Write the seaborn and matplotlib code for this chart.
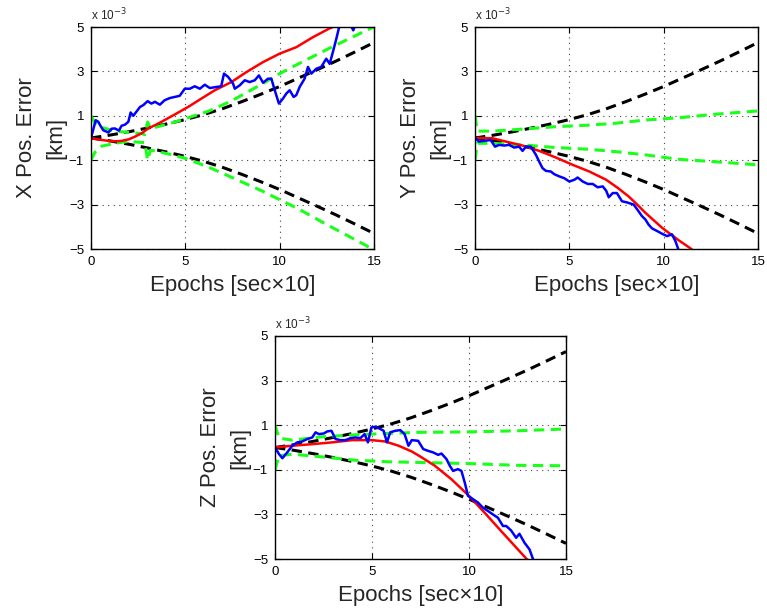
import matplotlib
matplotlib.use("Agg")
import matplotlib.pyplot as plt
import seaborn as sns

# ---- data (position errors in units of 1e-3 km, time in epochs of 10 s) ----
# 3-sigma covariance envelope (black dashed), shared by all axes
t_env = [0, 1, 2, 3, 4, 5, 6, 7, 8, 9, 10, 11, 12, 13, 14, 15]
env = [0, 0.13, 0.28, 0.45, 0.63, 0.83, 1.06, 1.33, 1.64, 1.97, 2.32, 2.7, 3.08, 3.47, 3.88, 4.3]

# X axis
t_blue_x = [0, 0.25, 0.39, 0.48, 0.65, 0.92, 1.1, 1.27, 1.48, 1.62, 1.8, 1.98, 2.1, 2.24, 2.33,
            2.6, 2.77, 3.0, 3.2, 3.39, 3.65, 3.9, 4.18, 4.44, 4.7, 4.97, 5.24, 5.5, 5.77, 6.03,
            6.3, 6.65, 6.9, 7.05, 7.27, 7.53, 7.62, 7.88, 8.15, 8.41, 8.68, 8.9, 9.12, 9.38,
            9.56, 9.74, 9.96, 10.18, 10.35, 10.53, 10.74, 10.88, 11.06, 11.32, 11.5, 11.68,
            11.94, 12.2, 12.47, 12.65, 12.82, 13.0, 13.17, 13.4, 13.7, 13.9, 14.1, 14.5, 15.0]
blue_x = [0, 0.8, 0.73, 0.58, 0.35, 0.25, 0.42, 0.43, 0.33, 0.55, 0.6, 0.73, 1.15, 1.0, 1.1,
          1.4, 1.48, 1.66, 1.55, 1.63, 1.5, 1.7, 1.8, 1.85, 1.9, 2.22, 2.22, 2.33, 2.22, 2.4,
          2.25, 2.3, 2.33, 2.9, 2.75, 2.45, 2.22, 2.37, 2.6, 2.52, 2.6, 2.82, 2.49, 2.67,
          2.67, 2.15, 1.55, 1.78, 2.0, 2.15, 1.85, 1.93, 2.3, 2.67, 3.2, 2.9,
          3.12, 3.2, 3.57, 3.34, 3.87, 4.46, 5.06, 5.5, 5.2, 4.85, 5.3, 5.8, 6.0]
t_red_x = [0, 0.5, 0.92, 1.3, 1.62, 2.0, 2.33, 2.7, 3.03, 3.4, 3.74, 4.1, 4.44, 5.15, 5.86,
           6.56, 7.44, 8.24, 9.12, 10.0, 10.88, 11.76, 12.65, 13.0, 13.5]
red_x = [0, -0.08, -0.13, -0.15, -0.13, -0.06, 0.06, 0.22, 0.43, 0.58, 0.73, 0.9, 1.06, 1.4,
         1.78, 2.15, 2.52, 2.97, 3.42, 3.8, 4.09, 4.54, 4.94, 5.06, 5.4]
t_grn_x = [0, 0.2, 0.56, 1.27, 1.98, 2.68, 2.85, 3.0, 3.15, 3.5, 4.44, 5.0, 6.2, 7.4, 9.1,
           10.0, 10.9, 12.65, 14.6, 15.0]
grn_hi_x = [1.0, 0.7, 0.48, 0.31, 0.25, 0.2, 0.15, 0.72, 0.45, 0.5, 0.72, 0.87, 1.2, 1.65, 2.45,
            2.9, 3.3, 4.05, 4.85, 5.0]
grn_lo_x = [-1.0, -0.65, -0.37, -0.24, -0.15, -0.2, -0.2, -1.0, -0.55, -0.6, -0.79, -0.92, -1.3,
            -1.75, -2.4, -2.78, -3.15, -3.97, -4.85, -5.1]

# Y axis
t_blue_y = [0, 0.21, 0.48, 0.83, 1.06, 1.28, 1.54, 1.81, 2.07, 2.34, 2.52, 2.7, 2.96, 3.23,
            3.4, 3.58, 3.76, 4.02, 4.2, 4.47, 4.73, 5.0, 5.27, 5.44, 5.71, 5.98, 6.24, 6.5,
            6.77, 6.95, 7.09, 7.3, 7.52, 7.79, 8.05, 8.41, 8.67, 8.85, 9.03, 9.2, 9.38, 9.65,
            9.91, 10.18, 10.44, 10.62, 10.76, 10.85]
blue_y = [0, -0.16, -0.13, -0.09, -0.39, -0.31, -0.34, -0.31, -0.43, -0.39, -0.58, -0.39,
          -0.39, -0.76, -1.06, -1.36, -1.48, -1.51, -1.63, -1.73, -1.81, -1.96, -1.88, -1.78,
          -1.96, -2.07, -2.07, -2.22, -2.18, -2.37, -2.67, -2.48, -2.48, -2.85, -2.9, -3.0,
          -3.3, -3.52, -3.67, -3.9, -4.07, -4.19, -4.31, -4.42, -4.34, -4.64, -4.97, -5.2]
t_red_y = [0, 0.92, 1.63, 2.52, 3.4, 4.29, 5.18, 6.06, 6.95, 7.57, 8.14, 8.6, 9.03, 9.91,
           10.8, 11.42, 11.6]
red_y = [0, -0.01, -0.16, -0.34, -0.58, -0.88, -1.21, -1.51, -1.88, -2.25, -2.63, -3.0, -3.37,
         -4.04, -4.61, -4.97, -5.1]
t_grn_y = [0, 0.12, 0.92, 2.52, 4.29, 6.06, 7.4, 9.03, 10.8, 12.57, 15.0]
grn_hi_y = [1.0, 0.31, 0.31, 0.4, 0.51, 0.58, 0.66, 0.81, 0.91, 1.06, 1.22]
grn_lo_y = [-1.0, -0.24, -0.24, -0.31, -0.43, -0.51, -0.61, -0.76, -0.96, -1.06, -1.21]

# Z axis
t_blue_z = [0, 0.21, 0.38, 0.63, 0.89, 1.15, 1.4, 1.66, 1.92, 2.09, 2.26, 2.52, 2.69, 2.91,
            3.12, 3.37, 3.63, 3.89, 4.14, 4.4, 4.62, 4.79, 4.97, 5.17, 5.43, 5.6, 5.77, 5.94,
            6.2, 6.46, 6.68, 6.88, 7.05, 7.38, 7.64, 7.89, 8.15, 8.41, 8.58, 8.84, 9.01, 9.18,
            9.43, 9.61, 9.78, 9.95, 10.21, 10.46, 10.72, 10.98, 11.23, 11.49, 11.75, 11.92,
            12.17, 12.43, 12.6, 12.86, 13.12, 13.29, 13.4]
blue_z = [0, -0.3, -0.48, -0.22, 0.08, 0.23, 0.27, 0.38, 0.45, 0.68, 0.6, 0.63, 0.72, 0.75,
          0.38, 0.33, 0.33, 0.42, 0.45, 0.42, 0.6, 0.23, 0.9, 0.93, 0.83, 0.75, 0.23, 0.68,
          0.75, 0.78, 0.6, 0.08, 0.33, 0.3, -0.07, -0.15, -0.22, -0.33, -0.27, -0.52, -0.82,
          -1.05, -0.97, -1.05, -1.57, -2.17, -2.32, -2.47, -2.7, -2.85, -3.0, -3.15, -3.52,
          -3.52, -3.72, -4.05, -3.87, -4.27, -4.57, -4.98, -5.2]
t_red_z = [0, 0.89, 1.92, 2.95, 3.97, 5.0, 5.68, 6.37, 7.05, 7.48, 8.24, 9.09, 10.0, 10.8,
           11.66, 12.52, 12.95, 13.1]
red_z = [0, 0.08, 0.15, 0.23, 0.33, 0.33, 0.27, 0.08, -0.18, -0.4, -0.82, -1.42, -2.17, -2.92,
         -3.75, -4.57, -4.98, -5.1]
t_grn_z = [0, 0.21, 0.89, 2.43, 4.14, 5.85, 7.4, 10.0, 12.5, 15.0]
grn_hi_z = [1.0, 0.42, 0.33, 0.48, 0.57, 0.63, 0.68, 0.7, 0.75, 0.83]
grn_lo_z = [-1.0, -0.37, -0.3, -0.42, -0.57, -0.64, -0.67, -0.72, -0.8, -0.82]

x_ticks = [0, 5, 10, 15]
y_ticks = [-5, -3, -1, 1, 3, 5]
y_labels = ["X Pos. Error\n[km]", "Y Pos. Error\n[km]", "Z Pos. Error\n[km]"]
x_label = "Epochs [sec\u00d710]"

# ---- style ----
sns.set_style("ticks")
plt.rcParams["font.family"] = ["Liberation Sans", "DejaVu Sans"]
plt.rcParams["axes.linewidth"] = 1.0

BLUE, RED, GREEN, BLACK = "#0000ff", "#ff0000", "#1aff1a", "#000000"
DASH = (0, (3.4, 2.1))

fig = plt.figure(figsize=(7.67, 6.13), dpi=100)
W, H = 767.0, 613.0


def add_panel(left, top, right, bottom):
    return fig.add_axes([left / W, 1 - bottom / H, (right - left) / W, (bottom - top) / H])


panels = [
    (add_panel(91, 27, 374, 249), t_blue_x, blue_x, t_red_x, red_x, t_grn_x, grn_hi_x, grn_lo_x),
    (add_panel(475, 27, 758, 249), t_blue_y, blue_y, t_red_y, red_y, t_grn_y, grn_hi_y, grn_lo_y),
    (add_panel(275, 336, 566, 559), t_blue_z, blue_z, t_red_z, red_z, t_grn_z, grn_hi_z, grn_lo_z),
]

for (ax, tb, vb, tr, vr, tg, gh, gl), ylab in zip(panels, y_labels):
    common = dict(ax=ax, estimator=None, sort=False)
    sns.lineplot(x=t_env, y=env, color=BLACK, lw=2.2, linestyle=DASH, **common)
    sns.lineplot(x=t_env, y=[-v for v in env], color=BLACK, lw=2.2, linestyle=DASH, **common)
    sns.lineplot(x=tg, y=gh, color=GREEN, lw=2.2, linestyle=DASH, **common)
    sns.lineplot(x=tg, y=gl, color=GREEN, lw=2.2, linestyle=DASH, **common)
    sns.lineplot(x=tr, y=vr, color=RED, lw=1.8, **common)
    sns.lineplot(x=tb, y=vb, color=BLUE, lw=1.8, **common)

    ax.set_xlim(0, 15)
    ax.set_ylim(-5, 5)
    ax.set_xticks(x_ticks)
    ax.set_yticks(y_ticks)
    ax.set_xticklabels([str(v) for v in x_ticks])
    ax.set_yticklabels([str(v).replace("-", "\u2212") for v in y_ticks])
    ax.tick_params(direction="in", top=True, right=True, length=4, width=0.8,
                   labelsize=9.5, pad=5, colors="black")
    ax.grid(True, color="#444444", linestyle=(0, (1, 4)), linewidth=0.8)
    for s in ax.spines.values():
        s.set_visible(True)
        s.set_color("black")
    ax.set_xlabel(x_label, fontsize=16, labelpad=5)
    ax.set_ylabel(ylab, fontsize=16, labelpad=2, linespacing=1.5)
    ax.text(0.0, 1.015, r"x 10$^{-3}$", transform=ax.transAxes, fontsize=8.5,
            ha="left", va="bottom")

fig.savefig("out.png", dpi=100)
